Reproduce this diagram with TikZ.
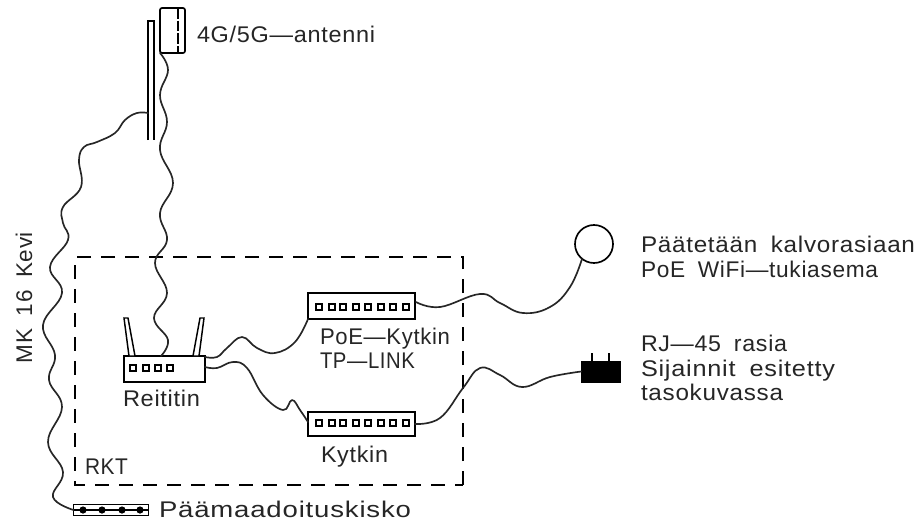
\documentclass[tikz,border=0pt]{standalone}
\usepackage{graphicx}
\usepackage{fontspec}
\setmainfont[LetterSpace=3,WordSpace=1.8]{Liberation Sans}
\newdimen\pxu \pxu=0.75pt
\newcommand\fitw[2]{\resizebox{#1\pxu}{\height}{#2}}
\tikzset{
  devbox/.style 2 args={draw=black,line width=1.3pt,fill=white,inner sep=0pt,outer sep=0pt,minimum width=#1*0.75pt,minimum height=#2*0.75pt},
  wire/.style={draw=black!85,line width=1.25pt,line join=round,line cap=round},
  port/.style={draw=black,line width=1pt},
  lbl/.style={inner sep=0pt,outer sep=0pt,anchor=base west,text=black!85,font=\fontsize{17}{20}\selectfont},
  framed/.style={draw=black,line width=1.25pt,dash pattern=on 10.5pt off 7.5pt},
}
\begin{document}
\begin{tikzpicture}[x=0.75pt,y=-0.75pt]
\useasboundingbox[fill=white] (0,0) rectangle (919,522);
% dashed cabinet
\draw[framed] (463,485) -- (463,257) -- (75,257) -- (75,485) -- cycle;
% devices
\node[devbox={81}{26}] (router) at (164.5,369) {};
\node[devbox={107}{26}] (poesw) at (361.5,306) {};
\node[devbox={107}{24}] (sw) at (361.5,424) {};
\node[draw=black,line width=1.25pt,circle,minimum size=28.5pt,inner sep=0pt,outer sep=0pt] (ap) at (594,244) {};
\node[draw=black,fill=black,inner sep=0pt,outer sep=0pt,minimum width=29pt,minimum height=15.5pt] (rj) at (600.5,371.5) {};
\node[draw=black,line width=1.25pt,rounded corners=1.5pt,inner sep=0pt,outer sep=0pt,minimum width=18.75pt,minimum height=33.75pt] (ant) at (172.5,30.5) {};
\node[devbox={75}{11}] (bar) at (111,510) {};
\coordinate (polepoint) at (148,113);
% antenna inner dash line
\draw[line width=1.1pt,dash pattern=on 8pt off 1.5pt] (ant.north west -| 178,0) -- (ant.south west -| 178,0);
% pole
\draw[line width=1.25pt] (148,140) -- (148,21) -- (154,21) -- (154,140);
% router aerials
\draw[line width=1.1pt,fill=white] (124,318) -- (128,318) -- (135,356) -- (129,356) -- cycle;
\draw[line width=1.1pt,fill=white] (200,318) -- (204,318) -- (199,356) -- (193,356) -- cycle;
% rj prongs
\draw[line width=0.9pt] (592,353) -- (592,361) (609,353) -- (609,361);
% ports
\foreach \x in {133,146,158,170} \draw[port] (\x-3,365) rectangle (\x+3,371);
\foreach \x in {319,332,343,356,368,381,393,406} {
  \draw[port] (\x-3,304) rectangle (\x+3,310);
  \draw[port] (\x-3,420) rectangle (\x+3,426);
}
% bar
\draw[line width=0.9pt] (bar.west) -- (bar.east);
\foreach \x in {83,102,122,140} \fill (\x,510) circle[radius=3.6];
% wires
\draw[wire] plot[smooth,tension=0.7] coordinates {(ant.south west) (168,70) (160,95) (167,122) (160,150) (173,183) (160,213) (167,240) (155,263) (167,293) (154,318) (168,340) (161,356)};
\draw[wire] plot[smooth,tension=0.7] coordinates {(polepoint) (137,113) (125,120) (115,133) (97,142) (84,147) (79,160) (81,187) (63,207) (63,223) (68,240) (50,267) (62,293) (43,325) (55,355) (49,380) (62,407) (48,442) (63,472) (53,497) (bar.west)};
\draw[wire] plot[smooth,tension=0.7] coordinates {(205,357) (217,357) (227,348) (242,337) (257,348) (275,353) (295,342) (poesw.south west)};
\draw[wire] plot[smooth,tension=0.7] coordinates {(205,367) (217,368) (233,362) (247,368) (263,395) (283,410) (292,400) (300,410) (308,422)};
\draw[wire] plot[smooth,tension=0.7] coordinates {(416,302) (440,307) (480,294) (500,303) (523,313) (550,307) (570,287) (582,259)};
\draw[wire] plot[smooth,tension=0.7] coordinates {(sw.east) (440,418) (463,388) (480,368) (500,375) (522,387) (550,377) (rj.west)};
% labels
\node[lbl] (t1) at (197,42) {\fitw{178}{4G/5G—antenni}};
\node[lbl] (t2) at (641,252) {\fitw{274}{Päätetään kalvorasiaan}};
\node[lbl] (t3) at (641,277) {\fitw{237}{PoE WiFi—tukiasema}};
\node[lbl] (t4) at (641,351) {\fitw{146}{RJ—45 rasia}};
\node[lbl] (t5) at (641,376) {\fitw{194}{Sijainnit esitetty}};
\node[lbl] (t6) at (641,400) {\fitw{142}{tasokuvassa}};
\node[lbl] (t7) at (320,344) {\fitw{130}{PoE—Kytkin}};
\node[lbl] (t8) at (320,368) {\fitw{95}{TP—LINK}};
\node[lbl] (t9) at (123,406) {\fitw{77}{Reititin}};
\node[lbl] (t10) at (321,462) {\fitw{67}{Kytkin}};
\node[lbl] (t11) at (85,474) {\fitw{43}{RKT}};
\node[lbl] (t12) at (159,517) {\fitw{252}{Päämaadoituskisko}};
\node[lbl,rotate=90] (t13) at (32,363) {\fitw{131}{MK 16 Kevi}};
\end{tikzpicture}
\end{document}
